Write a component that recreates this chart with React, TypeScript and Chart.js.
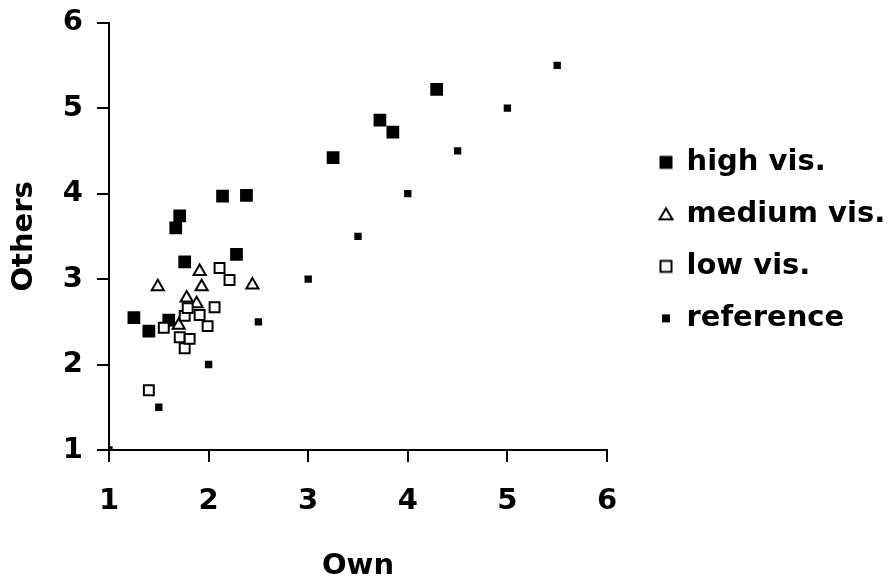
import React, { useEffect, useRef } from "react";
import { Chart, registerables } from "chart.js";

Chart.register(...registerables);

const seriesNames = ["high vis.", "medium vis.", "low vis.", "reference"];

const highOwn = [1.25, 1.4, 1.6, 1.67, 1.71, 1.76, 2.14, 2.28, 2.38, 3.25, 3.72, 3.85, 4.29];
const highOthers = [2.55, 2.39, 2.52, 3.6, 3.74, 3.2, 3.97, 3.29, 3.98, 4.42, 4.86, 4.72, 5.22];

const mediumOwn = [1.49, 1.7, 1.78, 1.88, 1.91, 1.93, 2.44];
const mediumOthers = [2.91, 2.46, 2.78, 2.71, 3.09, 2.91, 2.93];

const lowOwn = [1.4, 1.55, 1.71, 1.76, 1.76, 1.79, 1.81, 1.91, 1.99, 2.06, 2.11, 2.21];
const lowOthers = [1.7, 2.43, 2.32, 2.19, 2.57, 2.66, 2.3, 2.58, 2.45, 2.67, 3.13, 2.99];

const refOwn = [1, 1.5, 2, 2.5, 3, 3.5, 4, 4.5, 5, 5.5];
const refOthers = [1, 1.5, 2, 2.5, 3, 3.5, 4, 4.5, 5, 5.5];

const axisMin = 1;
const axisMax = 6;
const xTitle = "Own";
const yTitle = "Others";

const FONT = "'DejaVu Sans', sans-serif";

function pts(xs: number[], ys: number[]) {
  return xs.map((x, i) => ({ x, y: ys[i] }));
}

function makeIcon(kind: string): HTMLCanvasElement {
  const c = document.createElement("canvas");
  c.width = 48;
  c.height = 18;
  const g = c.getContext("2d")!;
  const cx = 39;
  const cy = 9;
  g.fillStyle = "#000";
  g.strokeStyle = "#000";
  g.lineWidth = 2;
  if (kind === "high") {
    g.fillRect(cx - 6.5, cy - 6.5, 13, 13);
  } else if (kind === "medium") {
    g.beginPath();
    g.moveTo(cx, cy - 6);
    g.lineTo(cx + 6.5, cy + 5);
    g.lineTo(cx - 6.5, cy + 5);
    g.closePath();
    g.fillStyle = "#fff";
    g.fill();
    g.stroke();
  } else if (kind === "low") {
    g.fillStyle = "#fff";
    g.fillRect(cx - 5.5, cy - 5.5, 11, 11);
    g.strokeRect(cx - 5.5, cy - 5.5, 11, 11);
  } else {
    g.fillRect(cx - 4, cy - 4, 8, 8);
  }
  return c;
}

export default function App() {
  const ref = useRef<HTMLCanvasElement | null>(null);

  useEffect(() => {
    if (!ref.current) return;
    const icons = [makeIcon("high"), makeIcon("medium"), makeIcon("low"), makeIcon("ref")];
    const xTickFont = { family: FONT, size: 29, weight: "bold" as const };
    const yTickFont = { family: FONT, size: 29, weight: "bold" as const, lineHeight: 0.6 };

    const chart = new Chart(ref.current, {
      type: "scatter",
      data: {
        datasets: [
          {
            label: seriesNames[0],
            data: pts(highOwn, highOthers),
            pointStyle: "rect",
            pointRadius: 9,
            backgroundColor: "#000",
            borderColor: "#000",
            borderWidth: 0,
            order: 3,
          },
          {
            label: seriesNames[1],
            data: pts(mediumOwn, mediumOthers),
            pointStyle: "triangle",
            pointRadius: 7,
            backgroundColor: "#fff",
            borderColor: "#000",
            borderWidth: 2,
            order: 2,
          },
          {
            label: seriesNames[2],
            data: pts(lowOwn, lowOthers),
            pointStyle: "rect",
            pointRadius: 7,
            backgroundColor: "#fff",
            borderColor: "#000",
            borderWidth: 2,
            order: 1,
          },
          {
            label: seriesNames[3],
            data: pts(refOwn, refOthers),
            pointStyle: "rect",
            pointRadius: 5.2,
            backgroundColor: "#000",
            borderColor: "#000",
            borderWidth: 0,
            order: 0,
          },
        ],
      },
      options: {
        responsive: false,
        animation: false,
        devicePixelRatio: 1,
        layout: { padding: { top: 0, right: 0, bottom: 0, left: 0 } },
        plugins: {
          tooltip: { enabled: false },
          legend: {
            position: "right",
            fullSize: false,
            maxWidth: 288,
            title: {
              display: true,
              text: " ",
              font: { size: 8, lineHeight: 1 },
              padding: 0,
            },
            labels: {
              usePointStyle: true,
              pointStyleWidth: 42,
              padding: 23,
              color: "#000",
              font: { family: FONT, size: 29, weight: "bold" },
              generateLabels: (ch: any) =>
                ch.data.datasets.map((ds: any, i: number) => ({
                  text: ds.label,
                  pointStyle: icons[i],
                  fillStyle: "#000",
                  strokeStyle: "#000",
                  lineWidth: 0,
                  hidden: false,
                  datasetIndex: i,
                  fontColor: "#000",
                })),
            },
          },
        },
        scales: {
          x: {
            type: "linear",
            min: axisMin,
            max: axisMax,
            afterFit: (s: any) => {
              s.height = 131;
            },
            ticks: { stepSize: 1, color: "#000", font: xTickFont, padding: 22 },
            grid: {
              display: true,
              drawOnChartArea: false,
              drawTicks: true,
              tickLength: 12,
              color: "#000",
              lineWidth: 2,
            },
            border: { display: true, color: "#000", width: 2 },
            title: {
              display: true,
              text: xTitle,
              color: "#000",
              font: { family: FONT, size: 29, weight: "bold", lineHeight: 1 },
              padding: { top: 0, bottom: 0 },
            },
          },
          y: {
            type: "linear",
            min: axisMin,
            max: axisMax,
            afterFit: (s: any) => {
              s.width = 109;
            },
            ticks: { stepSize: 1, color: "#000", font: yTickFont, padding: 14 },
            grid: {
              display: true,
              drawOnChartArea: false,
              drawTicks: true,
              tickLength: 12,
              color: "#000",
              lineWidth: 2,
            },
            border: { display: true, color: "#000", width: 2 },
            title: {
              display: true,
              text: yTitle,
              color: "#000",
              font: { family: FONT, size: 29, weight: "bold" },
              padding: { top: 7, bottom: 0 },
            },
          },
        },
      },
    });
    return () => chart.destroy();
  }, []);

  return (
    <div style={{ position: "absolute", left: 0, top: 0, width: 895, height: 581, background: "#fff" }}>
      <canvas ref={ref} width={895} height={581} />
    </div>
  );
}
